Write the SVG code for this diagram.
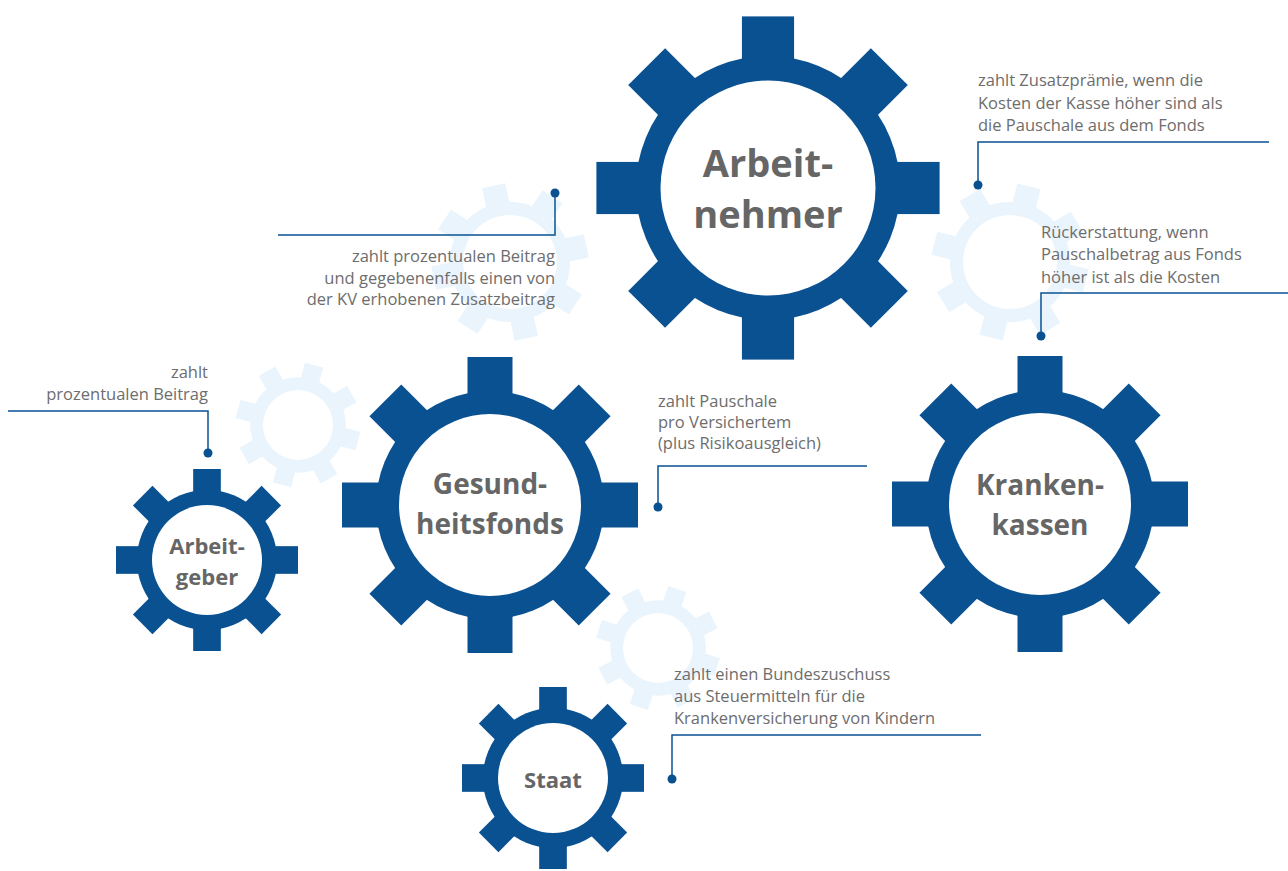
<svg xmlns="http://www.w3.org/2000/svg" xmlns:xlink="http://www.w3.org/1999/xlink" width="1288" height="871" viewBox="0 0 1288 871">
<style>
.dark{fill:#0a5192}
.light{fill:#e9f4fc}
.hole{fill:#ffffff}
.lbl{font-family:"Open Sans","Noto Sans","Liberation Sans",sans-serif;font-weight:700;fill:#666666;text-anchor:middle}
.ann{font-family:"Open Sans","Noto Sans","Liberation Sans",sans-serif;font-size:16.5px;fill:#6d6d6d}
.end{text-anchor:end}
.con{fill:none;stroke:#0a5192;stroke-width:1.5}
.dot{fill:#0a5192}
</style>
<defs>
<g id="gear">
<rect x="-15.2" y="-100" width="30.4" height="200"/>
<rect x="-15.2" y="-100" width="30.4" height="200" transform="rotate(45)"/>
<rect x="-15.2" y="-100" width="30.4" height="200" transform="rotate(90)"/>
<rect x="-15.2" y="-100" width="30.4" height="200" transform="rotate(135)"/>
<circle r="77"/>
</g>
</defs>
<rect width="1288" height="871" fill="#ffffff"/>
<g id="background-gears">
<use xlink:href="#gear" class="light" transform="translate(510,262) rotate(-12) scale(0.78)"/>
<circle class="hole" cx="510" cy="262" r="47"/>
<use xlink:href="#gear" class="light" transform="translate(1010,262) rotate(14) scale(0.78)"/>
<circle class="hole" cx="1010" cy="262" r="47"/>
<use xlink:href="#gear" class="light" transform="translate(298,425) rotate(15) scale(0.62)"/>
<circle class="hole" cx="298" cy="425" r="35"/>
<use xlink:href="#gear" class="light" transform="translate(658,648) rotate(18) scale(0.62)"/>
<circle class="hole" cx="658" cy="648" r="35"/>
</g>
<g id="arbeitnehmer">
<use xlink:href="#gear" class="dark" transform="translate(768,188) scale(1.716)"/>
<circle class="hole" cx="768" cy="188" r="107.5"/>
<text class="lbl" font-size="38" x="768" y="177">Arbeit-</text>
<text class="lbl" font-size="38" x="768" y="228">nehmer</text>
</g>
<g id="gesundheitsfonds">
<use xlink:href="#gear" class="dark" transform="translate(490,505) scale(1.48)"/>
<circle class="hole" cx="490" cy="505" r="91"/>
<text class="lbl" font-size="28" x="490" y="494">Gesund-</text>
<text class="lbl" font-size="28" x="490" y="534">heitsfonds</text>
</g>
<g id="krankenkassen">
<use xlink:href="#gear" class="dark" transform="translate(1040,504) scale(1.48)"/>
<circle class="hole" cx="1040" cy="504" r="91"/>
<text class="lbl" font-size="28" x="1040" y="495">Kranken-</text>
<text class="lbl" font-size="28" x="1040" y="535">kassen</text>
</g>
<g id="arbeitgeber">
<use xlink:href="#gear" class="dark" transform="translate(207,560) scale(0.91)"/>
<circle class="hole" cx="207" cy="560" r="55"/>
<text class="lbl" font-size="22" x="207" y="554">Arbeit-</text>
<text class="lbl" font-size="22" x="207" y="585">geber</text>
</g>
<g id="staat">
<use xlink:href="#gear" class="dark" transform="translate(553,778) scale(0.91)"/>
<circle class="hole" cx="553" cy="778" r="55"/>
<text class="lbl" font-size="22" x="553" y="788">Staat</text>
</g>
<g id="connectors">
<path class="con" d="M278,235 H555 V193"/>
<circle class="dot" cx="555" cy="193" r="4.5"/>
<path class="con" d="M1269,142 H978 V185"/>
<circle class="dot" cx="978" cy="185" r="4.5"/>
<path class="con" d="M1288,293 H1041 V336"/>
<circle class="dot" cx="1041" cy="336" r="4.5"/>
<path class="con" d="M8,411 H208 V453"/>
<circle class="dot" cx="208" cy="453" r="4.5"/>
<path class="con" d="M867,466 H658 V507"/>
<circle class="dot" cx="658" cy="507" r="4.5"/>
<path class="con" d="M981,735 H672 V779"/>
<circle class="dot" cx="672" cy="779" r="4.5"/>
</g>
<g id="annotations">
<text class="ann end" x="555" y="262">zahlt prozentualen Beitrag</text>
<text class="ann end" x="555" y="283.5">und gegebenenfalls einen von</text>
<text class="ann end" x="555" y="305">der KV erhobenen Zusatzbeitrag</text>
<text class="ann" x="978" y="86">zahlt Zusatzprämie, wenn die</text>
<text class="ann" x="978" y="108.5">Kosten der Kasse höher sind als</text>
<text class="ann" x="978" y="131">die Pauschale aus dem Fonds</text>
<text class="ann" x="1041" y="238">Rückerstattung, wenn</text>
<text class="ann" x="1041" y="260">Pauschalbetrag aus Fonds</text>
<text class="ann" x="1041" y="283">höher ist als die Kosten</text>
<text class="ann end" x="208" y="378">zahlt</text>
<text class="ann end" x="208" y="400">prozentualen Beitrag</text>
<text class="ann" x="658" y="407">zahlt Pauschale</text>
<text class="ann" x="658" y="428">pro Versichertem</text>
<text class="ann" x="658" y="449">(plus Risikoausgleich)</text>
<text class="ann" x="674" y="680">zahlt einen Bundeszuschuss</text>
<text class="ann" x="674" y="702">aus Steuermitteln für die</text>
<text class="ann" x="674" y="724">Krankenversicherung von Kindern</text>
</g>
</svg>
